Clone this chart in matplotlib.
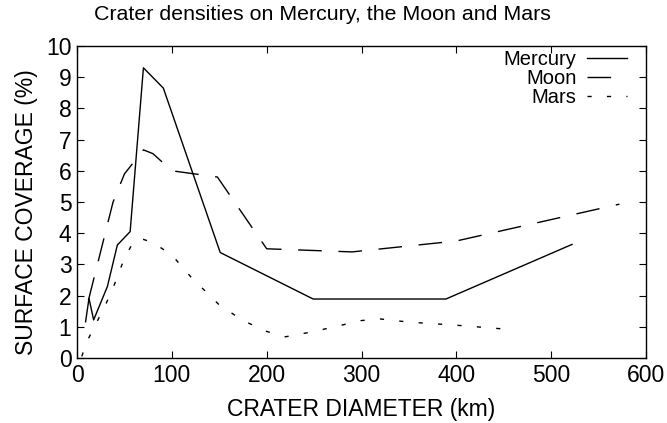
import numpy as np
from matplotlib import pyplot as plt

# values
mercury_x = [9, 12.6, 17.5, 32, 42.5, 56, 70, 91, 151, 249, 389, 522]
mercury_y = [1.16, 1.91, 1.22, 2.29, 3.62, 4.05, 9.3, 8.65, 3.38, 1.89, 1.89, 3.64]

moon_x = [12, 38, 50, 70, 80, 100, 148, 200, 290, 400, 572]
moon_y = [1.85, 5.0, 5.9, 6.67, 6.55, 6.0, 5.8, 3.5, 3.4, 3.75, 4.93]

mars_x = [5, 10, 20, 30, 40, 50, 60, 70, 80, 100, 120, 150, 175, 200, 220,
          250, 300, 320, 350, 400, 450]
mars_y = [0.05, 0.5, 1.1, 1.7, 2.4, 3.2, 3.75, 3.8, 3.7, 3.3, 2.6, 1.7, 1.2,
          0.85, 0.68, 0.85, 1.2, 1.25, 1.15, 1.05, 0.93]

names = ['Mercury', 'Moon', 'Mars']
x_ticks = [0, 100, 200, 300, 400, 500, 600]
y_ticks = list(range(0, 11))

if __name__ == '__main__':
    plt.rcParams['font.family'] = ['Liberation Sans', 'DejaVu Sans']

    fig = plt.figure(figsize=(6.67, 4.23), dpi=100)
    ax = fig.add_axes([0.1155, 0.1537, 0.853, 0.7376])

    ax.plot(mercury_x, mercury_y, color='black', lw=1.0, label=names[0])
    ax.plot(moon_x, moon_y, color='black', lw=1.0, dashes=(17, 12),
            label=names[1])
    ax.plot(mars_x, mars_y, color='black', lw=1.0, dashes=(3, 11),
            label=names[2])

    ax.set_xlim(0, 600)
    ax.set_ylim(0, 10)
    ax.set_xticks(x_ticks)
    ax.set_yticks(y_ticks)
    ax.tick_params(direction='in', top=True, right=True, length=5,
                   width=0.8, labelsize=16.5, pad=4)
    for s in ax.spines.values():
        s.set_linewidth(1.0)

    fig.text(0.483, 0.965, 'Crater densities on Mercury, the Moon and Mars',
             fontsize=15.4, ha='center', va='center')
    ax.set_xlabel('CRATER DIAMETER (km)', fontsize=16.5, labelpad=8)
    ax.set_ylabel('SURFACE COVERAGE (%)', fontsize=16.5)
    ax.yaxis.set_label_coords(-0.068, 0.468)

    ax.legend(loc='upper right', bbox_to_anchor=(0.984, 1.019),
              frameon=False, markerfirst=False,
              fontsize=14.5, handlelength=2.0, handletextpad=0.5,
              labelspacing=0.0, borderaxespad=0.3, borderpad=0.2)

    plt.savefig('out.png')
